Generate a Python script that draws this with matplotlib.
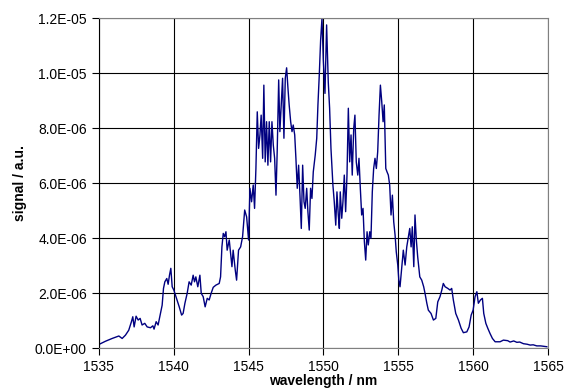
import matplotlib
matplotlib.use("Agg")
import matplotlib.pyplot as plt
from matplotlib.ticker import FuncFormatter, MultipleLocator
import numpy as np

# spectrum: wavelength in nm, signal in units of 1E-06
wavelength = [
    1535.00, 1535.45, 1535.89, 1536.34, 1536.56, 1536.78, 1537.00, 1537.18, 1537.27, 1537.36,
    1537.49, 1537.63, 1537.76, 1537.89, 1538.07, 1538.23, 1538.45, 1538.61, 1538.69, 1538.83,
    1538.96, 1539.12, 1539.23, 1539.32, 1539.41, 1539.54, 1539.63, 1539.72, 1539.81, 1539.90,
    1540.01, 1540.19, 1540.37, 1540.53, 1540.63, 1540.75, 1540.90, 1541.03, 1541.17, 1541.30,
    1541.39, 1541.48, 1541.61, 1541.75, 1541.84, 1541.97, 1542.10, 1542.24, 1542.37, 1542.50,
    1542.64, 1542.82, 1543.04, 1543.13, 1543.22, 1543.31, 1543.40, 1543.49, 1543.57, 1543.71,
    1543.80, 1543.89, 1543.97, 1544.11, 1544.20, 1544.33, 1544.47, 1544.60, 1544.74, 1544.87,
    1545.00, 1545.09, 1545.20, 1545.31, 1545.40, 1545.49, 1545.58, 1545.67, 1545.76, 1545.84,
    1545.94, 1546.02, 1546.11, 1546.20, 1546.29, 1546.38, 1546.47, 1546.56, 1546.65, 1546.74,
    1546.83, 1546.91, 1547.01, 1547.09, 1547.18, 1547.27, 1547.36, 1547.45, 1547.54, 1547.63,
    1547.71, 1547.81, 1547.90, 1547.98, 1548.08, 1548.16, 1548.25, 1548.34, 1548.43, 1548.52,
    1548.61, 1548.70, 1548.78, 1548.88, 1548.96, 1549.05, 1549.14, 1549.23, 1549.32, 1549.45,
    1549.55, 1549.63, 1549.72, 1549.81, 1549.90, 1549.99, 1550.10, 1550.21, 1550.32, 1550.41,
    1550.50, 1550.63, 1550.72, 1550.82, 1550.90, 1550.99, 1551.06, 1551.12, 1551.22, 1551.30,
    1551.39, 1551.48, 1551.57, 1551.66, 1551.75, 1551.84, 1551.92, 1552.02, 1552.10, 1552.19,
    1552.29, 1552.37, 1552.46, 1552.55, 1552.64, 1552.73, 1552.82, 1552.91, 1552.99, 1553.09,
    1553.17, 1553.26, 1553.35, 1553.44, 1553.53, 1553.62, 1553.71, 1553.80, 1553.89, 1553.98,
    1554.06, 1554.16, 1554.24, 1554.33, 1554.42, 1554.51, 1554.60, 1554.69, 1554.78, 1554.86,
    1554.96, 1555.03, 1555.11, 1555.23, 1555.33, 1555.45, 1555.56, 1555.67, 1555.76, 1555.85,
    1555.93, 1556.03, 1556.11, 1556.20, 1556.29, 1556.43, 1556.56, 1556.69, 1556.78, 1556.90,
    1557.00, 1557.18, 1557.34, 1557.50, 1557.63, 1557.78, 1557.90, 1558.00, 1558.12, 1558.30,
    1558.45, 1558.56, 1558.67, 1558.83, 1559.01, 1559.19, 1559.34, 1559.57, 1559.72, 1559.86,
    1559.99, 1560.12, 1560.24, 1560.34, 1560.48, 1560.61, 1560.70, 1560.84, 1560.97, 1561.12,
    1561.28, 1561.46, 1561.79, 1562.01, 1562.30, 1562.46, 1562.70, 1562.91, 1563.10, 1563.35,
    1563.60, 1563.80, 1564.00, 1564.24, 1564.50, 1564.91,
]
signal_e6 = [
    0.13, 0.25, 0.35, 0.44, 0.35, 0.47, 0.65, 0.96, 1.14, 0.77,
    1.16, 1.02, 1.08, 0.84, 0.90, 0.77, 0.74, 0.81, 0.69, 0.96,
    0.84, 1.26, 1.56, 2.17, 2.41, 2.53, 2.32, 2.65, 2.90, 2.23,
    2.11, 1.81, 1.50, 1.20, 1.26, 1.63, 1.99, 2.41, 2.29, 2.65,
    2.41, 2.59, 2.23, 2.65, 1.99, 1.87, 1.50, 1.81, 1.75, 1.99,
    2.21, 2.29, 2.35, 2.59, 3.68, 4.17, 4.05, 4.23, 3.56, 3.93,
    3.44, 2.96, 3.56, 2.84, 2.47, 3.56, 3.68, 4.05, 5.02, 4.77,
    3.93, 5.81, 5.32, 5.93, 5.08, 6.53, 8.59, 7.26, 7.75, 8.47,
    6.90, 9.56, 6.77, 8.23, 6.65, 8.23, 6.77, 8.23, 7.38, 6.90,
    5.56, 7.14, 9.75, 7.87, 8.84, 9.81, 7.63, 9.81, 10.19, 9.44,
    8.84, 8.23, 7.87, 8.11, 7.75, 6.90, 5.81, 6.65, 5.56, 4.35,
    6.65, 5.32, 5.08, 5.81, 4.96, 4.29, 5.81, 5.44, 6.41, 7.02,
    7.63, 8.84, 9.93, 11.20, 11.99, 10.47, 9.26, 11.75, 9.68, 8.72,
    7.26, 5.93, 5.32, 4.47, 5.68, 4.84, 4.35, 5.68, 4.72, 5.32,
    6.29, 4.96, 6.29, 8.72, 6.77, 7.75, 6.29, 7.99, 8.47, 6.77,
    6.29, 6.90, 5.81, 4.84, 5.08, 3.87, 3.20, 4.23, 3.75, 4.23,
    3.99, 5.68, 6.53, 6.90, 6.53, 7.14, 8.47, 9.56, 8.96, 8.23,
    8.84, 6.53, 6.41, 6.29, 5.93, 4.84, 5.56, 4.59, 4.11, 3.50,
    3.02, 2.47, 2.23, 2.96, 3.56, 3.02, 3.68, 4.05, 4.35, 3.68,
    4.41, 2.96, 4.84, 3.93, 3.32, 2.59, 2.47, 2.23, 1.99, 1.63,
    1.38, 1.26, 1.02, 1.08, 1.68, 1.87, 2.11, 2.35, 2.23, 2.17,
    2.11, 2.17, 1.75, 1.26, 1.02, 0.72, 0.56, 0.59, 0.77, 1.20,
    1.38, 1.87, 2.05, 1.63, 1.75, 1.81, 1.26, 0.90, 0.72, 0.53,
    0.35, 0.23, 0.23, 0.29, 0.27, 0.22, 0.26, 0.21, 0.22, 0.16,
    0.14, 0.11, 0.12, 0.08, 0.08, 0.05,
]
signal = np.array(signal_e6) * 1e-6

xticks = [1535, 1540, 1545, 1550, 1555, 1560, 1565]

plt.rcParams['font.family'] = ['Liberation Sans', 'DejaVu Sans']
fig = plt.figure(figsize=(5.71, 3.92), dpi=100)
ax = fig.add_axes([0.173, 0.112, 0.787, 0.842])

ax.plot(wavelength, signal, color='#000080', linewidth=1.0)

ax.set_xlim(1535, 1565)
ax.set_ylim(0, 1.2e-5)
ax.set_xticks(xticks)
ax.yaxis.set_major_locator(MultipleLocator(2e-6))
ax.yaxis.set_major_formatter(FuncFormatter(lambda v, p: '{:.1E}'.format(v)))
ax.grid(True, color='black', linewidth=0.8)
ax.set_axisbelow(True)

for side in ['top', 'right']:
    ax.spines[side].set_color('#808080')
ax.spines['bottom'].set_color('#808080')
ax.spines['left'].set_color('black')
ax.tick_params(direction='out', length=5, width=0.8, labelsize=10, colors='black')

ax.set_xlabel('wavelength / nm', fontsize=10, fontweight='bold', labelpad=0)
ax.set_ylabel('signal / a.u.', fontsize=10, fontweight='bold', labelpad=6)

fig.savefig('out.png', dpi=100)
